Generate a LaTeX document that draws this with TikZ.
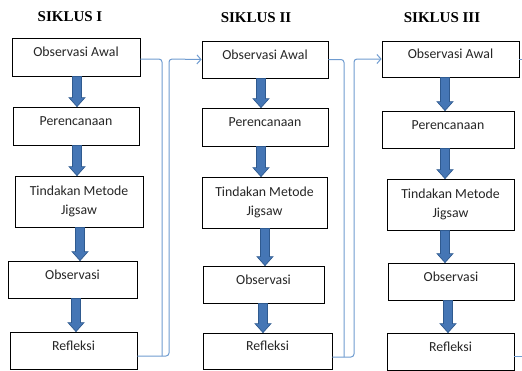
\documentclass[tikz,border=0pt]{standalone}
\usepackage{fontspec}
\setmainfont{Liberation Serif}
\newfontfamily\boxfont{Carlito}
\usetikzlibrary{arrows.meta,calc}
\definecolor{arrfill}{HTML}{4576B5}
\definecolor{arrdraw}{HTML}{2F5A8F}
\definecolor{linkc}{HTML}{6E9BD0}
\newcommand\blockarr[3]{%
  \path[fill=arrfill,draw=arrdraw,line width=0.7pt]
    let \p1=(#1.south), \p2=(#2.north) in
    ({#3pt-4.5pt},{\y1}) -- ({#3pt+4.5pt},{\y1}) -- ({#3pt+4.5pt},{\y2+9pt})
    -- ({#3pt+8pt},{\y2+9pt}) -- ({#3pt},{\y2}) -- ({#3pt-8pt},{\y2+9pt})
    -- ({#3pt-4.5pt},{\y2+9pt}) -- cycle;}
\begin{document}
\begin{tikzpicture}[x=1pt,y=-1pt,
  stagebox/.style={draw=black,line width=0.8pt,fill=white,inner sep=0pt,
    font=\boxfont\fontsize{13.8}{20}\selectfont,text=black!85,
    text height=9pt,text depth=10pt},
  twobox/.style={draw=black,line width=0.8pt,fill=white,inner sep=0pt,
    font=\boxfont\fontsize{13.8}{19.5}\selectfont,text=black!85,align=center},
  title/.style={font=\bfseries\fontsize{15}{18}\selectfont},
  link/.style={draw=linkc,line width=1pt,rounded corners=3pt},
  linkarr/.style={link,-{Straight Barb[length=4pt,width=9pt]}}]
\useasboundingbox (0,0) rectangle (522,370);

% titles
\node[title] (s1) at (70,17) {SIKLUS I};
\node[title] (s2) at (256,18) {SIKLUS II};
\node[title] (s3) at (442,18) {SIKLUS III};

% column 1
\node[stagebox,minimum width=128,minimum height=38] (o1) at (76,57) {Observasi Awal};
\node[stagebox,minimum width=126,minimum height=38] (p1) at (76,126) {Perencanaan};
\node[twobox,minimum width=128,minimum height=51] (t1) at (79,201.5) {Tindakan Metode\\Jigsaw};
\node[stagebox,minimum width=129,minimum height=37] (ob1) at (72.5,279.5) {Observasi};
\node[stagebox,minimum width=127,minimum height=37] (r1) at (73.5,350.5) {Refleksi};

% column 2
\node[stagebox,minimum width=126,minimum height=37] (o2) at (265,59.5) {Observasi Awal};
\node[stagebox,minimum width=126,minimum height=38] (p2) at (265,127) {Perencanaan};
\node[twobox,minimum width=125,minimum height=51] (t2) at (264.5,202.5) {Tindakan Metode\\Jigsaw};
\node[stagebox,minimum width=121,minimum height=37] (ob2) at (263.5,284.5) {Observasi};
\node[stagebox,minimum width=129,minimum height=36] (r2) at (267.5,351) {Refleksi};

% column 3
\node[stagebox,minimum width=137,minimum height=36] (o3) at (450.5,59) {Observasi Awal};
\node[stagebox,minimum width=132,minimum height=37] (p3) at (448,129.5) {Perencanaan};
\node[twobox,minimum width=127,minimum height=51] (t3) at (450.5,204.5) {Tindakan Metode\\Jigsaw};
\node[stagebox,minimum width=126,minimum height=37] (ob3) at (451,281.5) {Observasi};
\node[stagebox,minimum width=127,minimum height=37] (r3) at (450.5,351.5) {Refleksi};

% block arrows
\blockarr{o1}{p1}{77}
\blockarr{p1}{t1}{77}
\blockarr{t1}{ob1}{80}
\blockarr{ob1}{r1}{76}
\blockarr{o2}{p2}{261}
\blockarr{p2}{t2}{261}
\blockarr{t2}{ob2}{265}
\blockarr{ob2}{r2}{263}
\blockarr{o3}{p3}{445}
\blockarr{p3}{t3}{445}
\blockarr{t3}{ob3}{445}
\blockarr{ob3}{r3}{448}

% free ends
\coordinate (e1) at (522,59);
\coordinate (e2) at (522,356);

% links between cycles
\draw[link] ([yshift=-2pt]o1.east) -| (162,356);
\draw[linkarr] ([yshift=-5.5pt]r1.east) -- (169,356) -- (169,59) -- (o2.west);
\draw[link] (o2.east) -| (344,357);
\draw[linkarr] ([yshift=-6pt]r2.east) -- (354,357) -- (354,59) -- (o3.west);
\draw[link] (o3.east) -- (e1);
\draw[link] ([yshift=-4.5pt]r3.east) -- (e2);
\end{tikzpicture}
\end{document}
